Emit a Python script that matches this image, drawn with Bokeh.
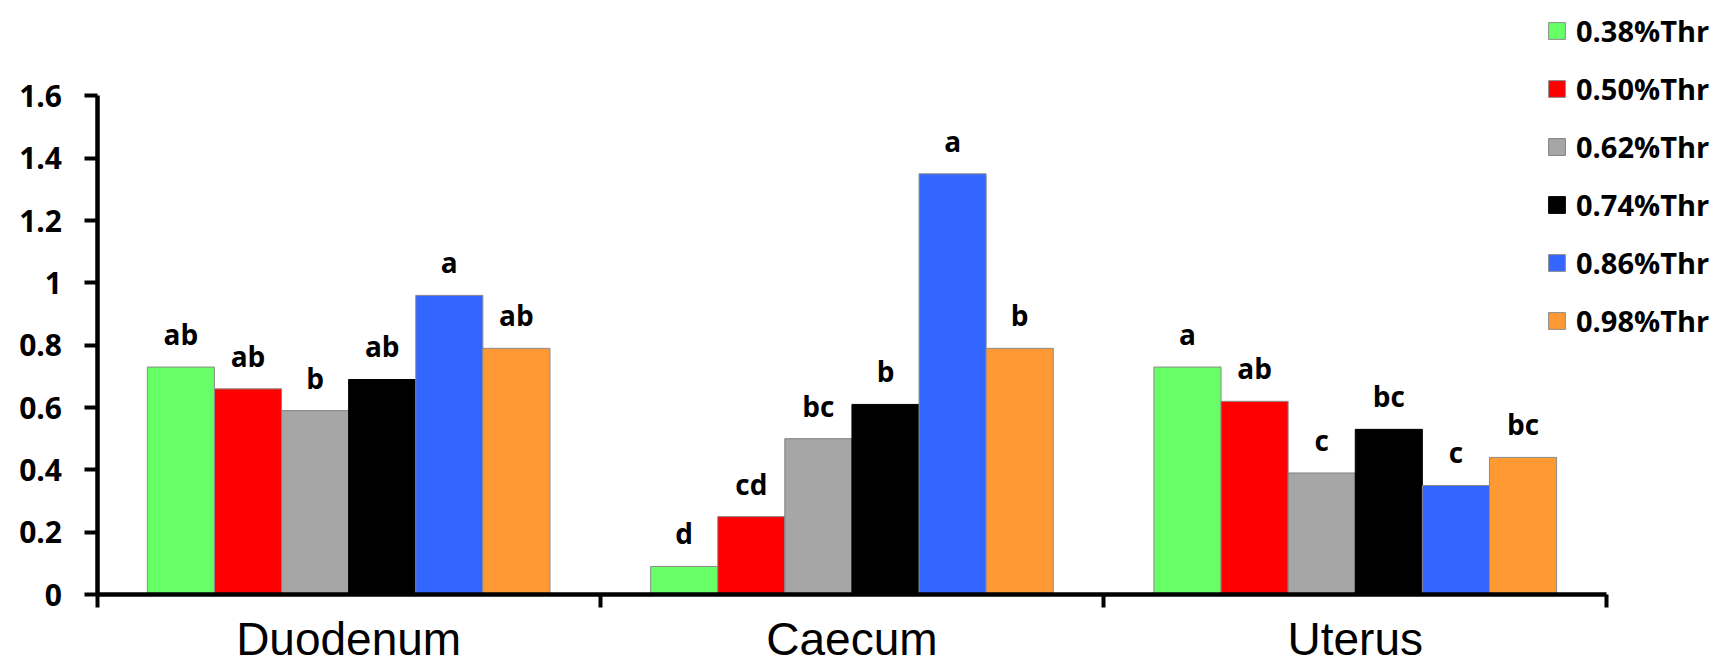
from bokeh.plotting import figure
from bokeh.models import Range1d, FixedTicker, Legend, LegendItem, ColumnDataSource
from bokeh.core.properties import value
from bokeh.embed import file_html
from bokeh.resources import INLINE

# ---------------- data ----------------
categories = ["Duodenum", "Caecum", "Uterus"]
series = ["0.38%Thr", "0.50%Thr", "0.62%Thr", "0.74%Thr", "0.86%Thr", "0.98%Thr"]

thr_038 = [0.73, 0.09, 0.73]
thr_050 = [0.66, 0.25, 0.62]
thr_062 = [0.59, 0.50, 0.39]
thr_074 = [0.69, 0.61, 0.53]
thr_086 = [0.96, 1.35, 0.35]
thr_098 = [0.79, 0.79, 0.44]

letters_038 = ["ab", "d", "a"]
letters_050 = ["ab", "cd", "ab"]
letters_062 = ["b", "bc", "c"]
letters_074 = ["ab", "b", "bc"]
letters_086 = ["a", "a", "c"]
letters_098 = ["ab", "b", "bc"]

y_ticks = [0, 0.2, 0.4, 0.6, 0.8, 1, 1.2, 1.4, 1.6]

values = [thr_038, thr_050, thr_062, thr_074, thr_086, thr_098]
letters = [letters_038, letters_050, letters_062, letters_074, letters_086, letters_098]

# ---------------- style ----------------
colors = ["#66FF66", "#FF0000", "#A6A6A6", "#000000", "#3366FF", "#FF9933"]
outline = ["#8C8C8C", "#8C8C8C", "#7F7F7F", "#000000", "#8C8C8C", "#8C8C8C"]
bold_font = "Open Sans"

W, H = 1725, 663
left_px = 96.5      # screen x of the value axis
zero_px = 594.0     # screen y of value 0
ppy = 311.6         # pixels per unit on y
ppc = 503.3         # pixels per category

x_range = Range1d(-left_px / ppc, (W - left_px) / ppc)
y_range = Range1d(-(H - zero_px) / ppy, zero_px / ppy)

p = figure(width=W, height=H, x_range=x_range, y_range=y_range,
           output_backend="svg", toolbar_location=None,
           min_border=0, min_border_left=0, min_border_right=0,
           min_border_top=0, min_border_bottom=0)
p.outline_line_color = None
p.xgrid.visible = False
p.ygrid.visible = False
p.background_fill_color = "white"
p.border_fill_color = "white"

n = len(series)
group = 0.8
bw = group / n

items = []
for j in range(n):
    xs = [i + 0.5 + (j - (n - 1) / 2) * bw for i in range(len(categories))]
    src = ColumnDataSource(dict(x=xs, top=values[j], lab=letters[j]))
    r = p.vbar(x="x", top="top", bottom=0, width=bw, source=src,
               fill_color=colors[j], line_color=outline[j], line_width=1)
    items.append(LegendItem(label=series[j], renderers=[r]))
    p.text(x="x", y="top", text="lab", source=src, y_offset=-33,
           text_align="center", text_baseline="alphabetic",
           text_font=value(bold_font), text_font_style="bold",
           text_font_size="28px", text_color="black")

# y axis
ya = p.yaxis[0]
ya.fixed_location = 0
ya.bounds = (0, 1.6)
ya.ticker = FixedTicker(ticks=y_ticks, minor_ticks=[])
ya.major_label_overrides = {t: f"{t:g}" for t in y_ticks}
ya.axis_line_width = 4.5
ya.axis_line_color = "black"
ya.major_tick_line_width = 4
ya.major_tick_out = 13
ya.major_tick_in = 0
ya.minor_tick_out = 0
ya.minor_tick_in = 0
ya.major_label_standoff = 22
ya.major_label_text_font = bold_font
ya.major_label_text_font_style = "bold"
ya.major_label_text_font_size = "30px"
ya.major_label_text_color = "black"

# x axis
xa = p.xaxis[0]
xa.fixed_location = 0
xa.bounds = (0, len(categories))
centers = [i + 0.5 for i in range(len(categories))]
edges = [float(i) for i in range(len(categories) + 1)]
xa.ticker = FixedTicker(ticks=centers, minor_ticks=edges)
xa.major_label_overrides = {c: name for c, name in zip(centers, categories)}
xa.axis_line_width = 4.5
xa.axis_line_color = "black"
xa.major_tick_out = 0
xa.major_tick_in = 0
xa.minor_tick_out = 13
xa.minor_tick_in = 0
xa.minor_tick_line_width = 4
xa.minor_tick_line_color = "black"
xa.major_label_standoff = 5
xa.major_label_text_font = "Liberation Sans"
xa.major_label_text_font_style = "normal"
xa.major_label_text_font_size = "46px"
xa.major_label_text_color = "black"

legend = Legend(items=items, location=(1546, 321), orientation="vertical",
                padding=0, margin=0, spacing=14,
                glyph_width=21, glyph_height=21, label_height=44,
                label_standoff=9,
                label_text_font=bold_font, label_text_font_style="bold",
                label_text_font_size="29px", label_text_color="black",
                border_line_color=None, background_fill_alpha=0)
p.add_layout(legend)

open("out.html", "w").write(file_html(p, INLINE))
